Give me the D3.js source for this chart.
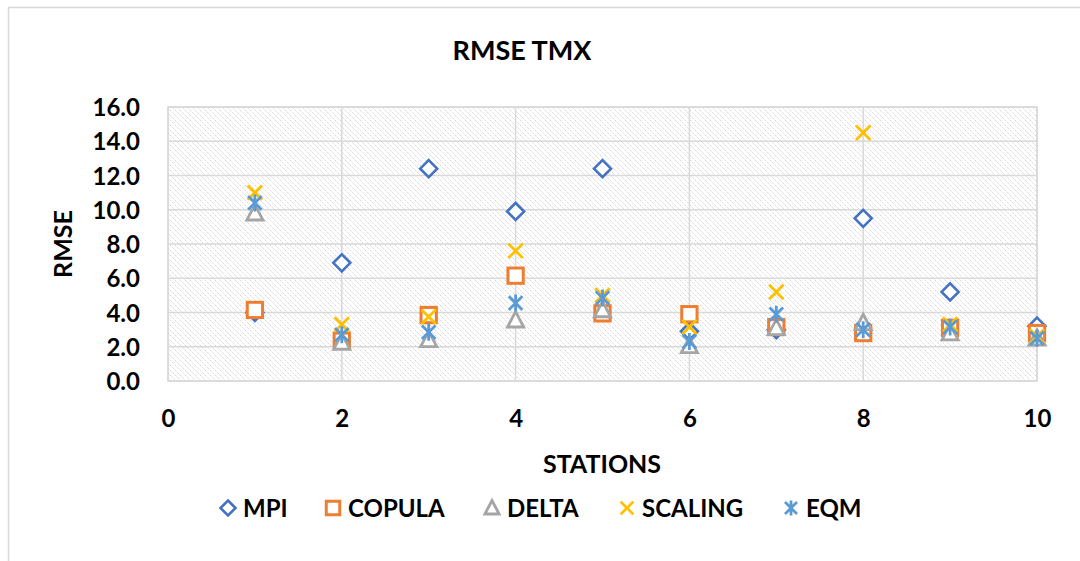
<!DOCTYPE html>
<html><head><meta charset="utf-8">
<script src="https://cdn.jsdelivr.net/npm/d3@7"></script>
<style>
html,body{margin:0;padding:0;background:#fff;}
text{font-family:Lato,"Open Sans",sans-serif;font-weight:bold;fill:#000;}
</style></head>
<body><svg id="c" width="1080" height="561"></svg>
<script>
const stations = [1,2,3,4,5,6,7,8,9,10];
const seriesNames = ["MPI","COPULA","DELTA","SCALING","EQM"];
const mpi     = [4.0, 6.9, 12.4, 9.9, 12.4, 2.9, 3.0, 9.5, 5.2, 3.2];
const copula  = [4.15, 2.35, 3.85, 6.15, 3.95, 3.9, 3.15, 2.8, 3.1, 2.8];
const delta   = [9.8, 2.25, 2.4, 3.55, 4.15, 2.05, 3.1, 3.4, 2.8, 2.5];
const scaling = [11.0, 3.3, 3.75, 7.6, 5.0, 3.15, 5.2, 14.5, 3.3, 2.6];
const eqm     = [10.4, 2.7, 2.85, 4.55, 4.85, 2.3, 3.9, 3.0, 3.15, 2.5];
const yTicks = [0,2,4,6,8,10,12,14,16];
const xTicks = [0,2,4,6,8,10];
const colors = ["#4472C4","#ED7D31","#A5A5A5","#FFC000","#5B9BD5"];
const values = [mpi,copula,delta,scaling,eqm];

const svg = d3.select("#c");
const L=168,R=1037,T=107,B=381;
const x = d3.scaleLinear().domain([0,10]).range([L,R]);
const y = d3.scaleLinear().domain([0,16]).range([B,T]);

// outer border
svg.append("rect").attr("x",8.5).attr("y",7.5).attr("width",1090).attr("height",570)
  .attr("fill","#fff").attr("stroke","#d9d9d9").attr("stroke-width",1.5);

// hatch pattern
const defs = svg.append("defs");
const pat = defs.append("pattern").attr("id","hatch").attr("patternUnits","userSpaceOnUse")
  .attr("width",5).attr("height",5);
pat.append("rect").attr("width",5).attr("height",5).attr("fill","#fff");
pat.append("path").attr("d","M0,0 L5,5 M-1,4 L1,6 M4,-1 L6,1")
  .attr("stroke","#d6d6d6").attr("stroke-width",1).attr("stroke-dasharray","1.5,0.8");

svg.append("rect").attr("x",L).attr("y",T).attr("width",R-L).attr("height",B-T)
  .attr("fill","url(#hatch)").attr("stroke","#d9d9d9").attr("stroke-width",1.5);

// grid
svg.append("g").selectAll("line").data(yTicks).join("line")
  .attr("x1",L).attr("x2",R).attr("y1",d=>y(d)).attr("y2",d=>y(d))
  .attr("stroke","#d9d9d9").attr("stroke-width",1.5);
svg.append("g").selectAll("line").data(xTicks).join("line")
  .attr("y1",T).attr("y2",B).attr("x1",d=>x(d)).attr("x2",d=>x(d))
  .attr("stroke","#d9d9d9").attr("stroke-width",1.5);

// axes
const yAxis = d3.axisLeft(y).tickValues(yTicks).tickFormat(d3.format(".1f")).tickSize(0).tickPadding(28);
const gy = svg.append("g").attr("transform",`translate(${L},0)`).call(yAxis);
gy.select(".domain").remove();
gy.selectAll("text").style("font-size","24px").style("font-family","Lato, sans-serif").attr("dy","0.36em");

const xAxis = d3.axisBottom(x).tickValues(xTicks).tickFormat(d3.format("d")).tickSize(0).tickPadding(29);
const gx = svg.append("g").attr("transform",`translate(0,${B})`).call(xAxis);
gx.select(".domain").remove();
gx.selectAll("text").style("font-size","24px").style("font-family","Lato, sans-serif");

// titles
svg.append("text").attr("x",522).attr("y",60).attr("text-anchor","middle").style("font-size","27px").text("RMSE TMX");
svg.append("text").attr("x",602).attr("y",473).attr("text-anchor","middle").style("font-size","25px").text("STATIONS");
svg.append("text").attr("transform","translate(72,244) rotate(-90)").attr("text-anchor","middle").style("font-size","25px").text("RMSE");

// marker shapes
function marker(g, i, s){
  const c = colors[i];
  const h = s/2;
  if(i===0){
    g.append("path").attr("d",`M0,${-h} L${h},0 L0,${h} L${-h},0 Z`).attr("fill","#fff").attr("stroke",c).attr("stroke-width",2.6);
  } else if(i===1){
    g.append("rect").attr("x",-h*0.9).attr("y",-h*0.9).attr("width",h*1.8).attr("height",h*1.8).attr("fill","#fff").attr("stroke",c).attr("stroke-width",3);
  } else if(i===2){
    g.append("path").attr("d",`M0,${-h} L${h*0.95},${h*0.8} L${-h*0.95},${h*0.8} Z`).attr("fill","#fff").attr("stroke",c).attr("stroke-width",2.8);
  } else if(i===3){
    g.append("path").attr("d",`M${-h*0.85},${-h*0.85} L${h*0.85},${h*0.85} M${-h*0.85},${h*0.85} L${h*0.85},${-h*0.85}`).attr("stroke",c).attr("stroke-width",2.8).attr("fill","none");
  } else {
    g.append("path").attr("d",`M${-h*0.8},${-h*0.8} L${h*0.8},${h*0.8} M${-h*0.8},${h*0.8} L${h*0.8},${-h*0.8} M0,${-h} L0,${h}`).attr("stroke",c).attr("stroke-width",2.8).attr("fill","none");
  }
}

values.forEach((vals,i)=>{
  const g = svg.append("g");
  stations.forEach((st,j)=>{
    const m = g.append("g").attr("transform",`translate(${x(st)},${y(vals[j])})`);
    marker(m,i,17);
  });
});

// legend
const legX = [228,333,492,627,791];
seriesNames.forEach((n,i)=>{
  const m = svg.append("g").attr("transform",`translate(${legX[i]},508)`);
  marker(m,i,15);
  svg.append("text").attr("x",legX[i]+15).attr("y",508).attr("dy","0.36em").style("font-size","24px").text(n);
});
</script></body></html>
